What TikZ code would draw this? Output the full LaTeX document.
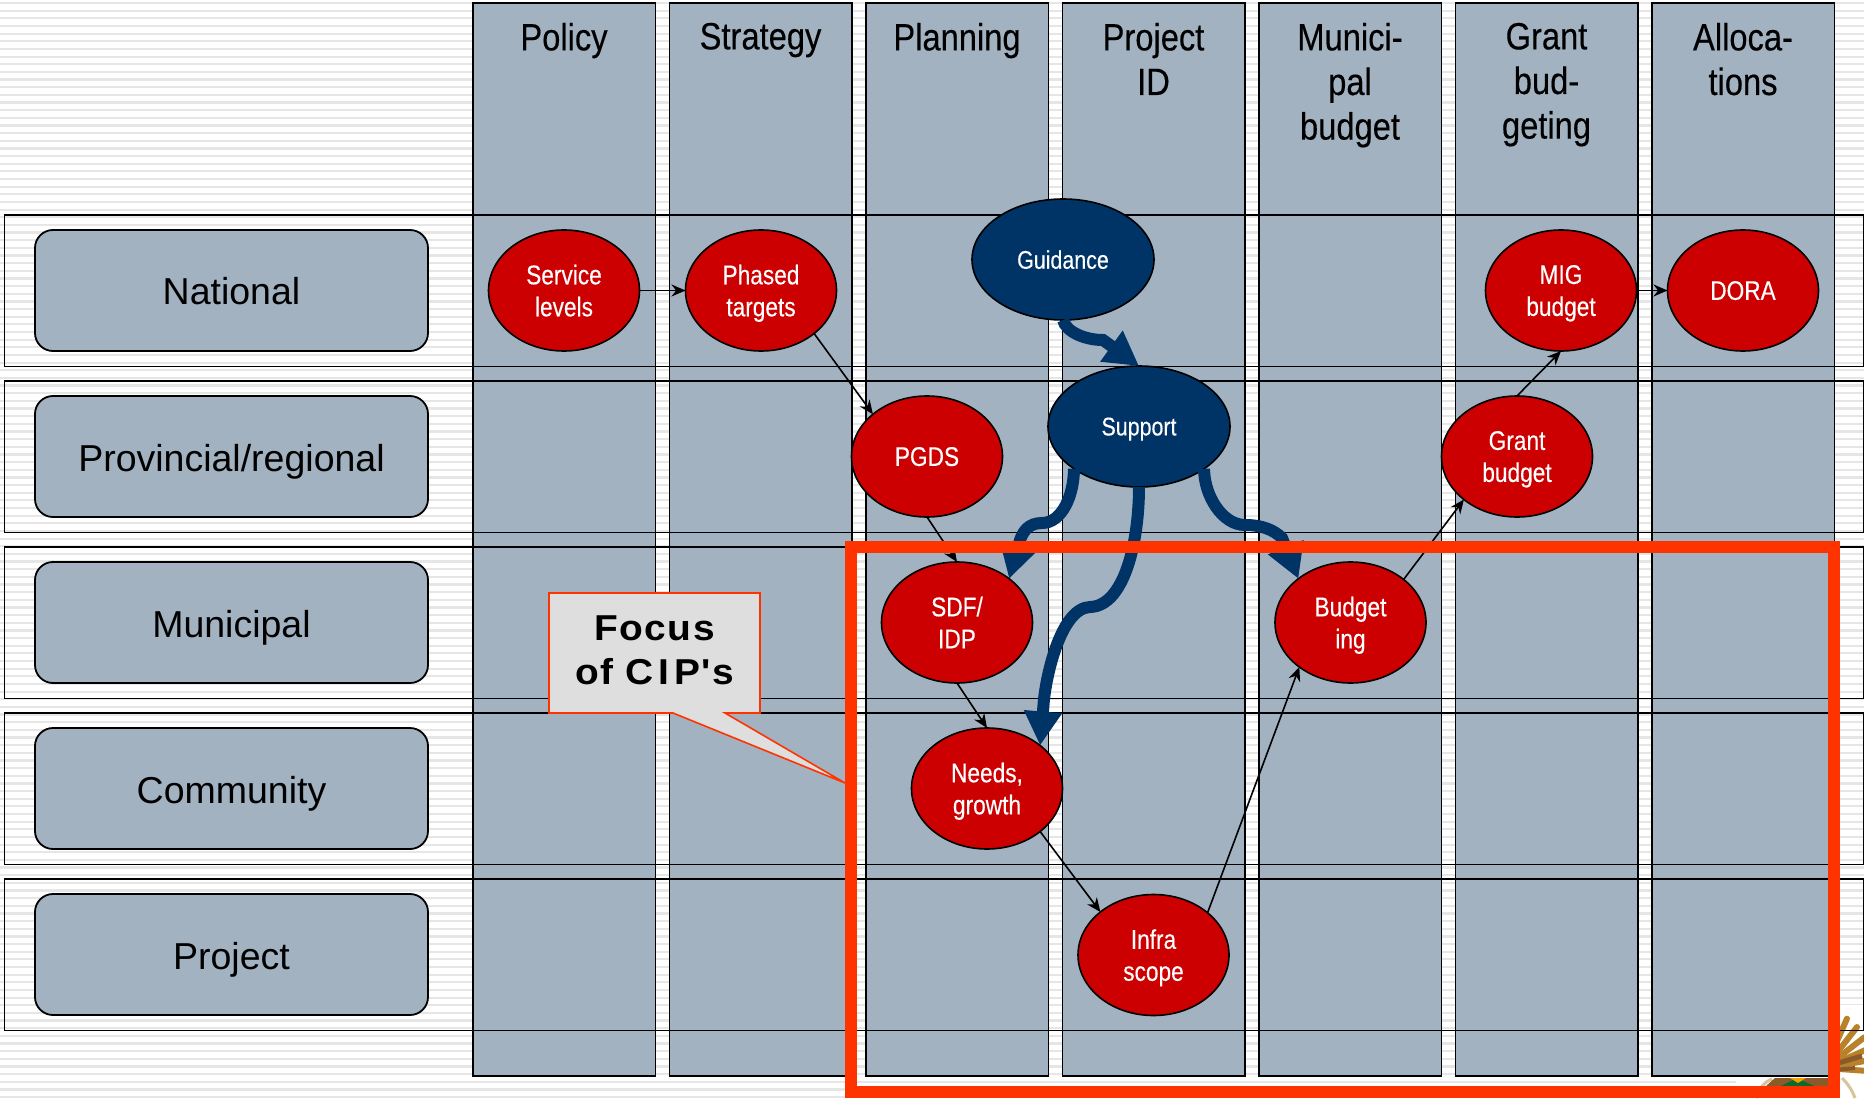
\documentclass[tikz,border=0pt]{standalone}
\usepackage{fontspec}
\usetikzlibrary{arrows.meta,shapes.geometric}
\setmainfont{Liberation Sans}
\newfontfamily\narrowf[FakeStretch=0.86,FakeBold=0.3]{Liberation Sans}
\newfontfamily\whitef[FakeStretch=0.84,FakeBold=0.25]{Liberation Sans}
\newfontfamily\wideb[FakeStretch=1.08,LetterSpace=4,BoldFont={Liberation Sans Bold}]{Liberation Sans}
\definecolor{colblue}{HTML}{A2B2C1}
\definecolor{ovred}{HTML}{CC0000}
\definecolor{ovnavy}{HTML}{003366}
\definecolor{focus}{HTML}{FF3300}
\definecolor{stripe}{HTML}{E6E6E6}
\definecolor{gold}{HTML}{B8812A}
\definecolor{darkgold}{HTML}{8B5A2B}
\definecolor{beige}{HTML}{D8C49A}
\definecolor{kgreen}{HTML}{0A6B2A}
\definecolor{korange}{HTML}{F5A000}
\tikzset{
  x=1pt,y=-1pt,
  every node/.style={outer sep=0pt},
  colbox/.style={draw=black,line width=1.8pt,fill=colblue,minimum width=182.5pt,minimum height=1073pt,inner sep=0pt,anchor=north west},
  rowbox/.style={draw=black,line width=1.8pt,minimum width=1859pt,minimum height=151.5pt,inner sep=0pt,anchor=north west},
  rowlabel/.style={draw=black,line width=1.8pt,fill=colblue,rounded corners=18pt,minimum width=393pt,minimum height=121pt,inner sep=0pt,text height=29pt,text depth=0pt,font=\fontsize{37.5}{42}\selectfont},
  headtext/.style={anchor=north,align=center,font=\narrowf\fontsize{38}{44.6}\selectfont},
  redov/.style={ellipse,draw=black,line width=1.6pt,fill=ovred,text=white,minimum width=151pt,minimum height=121pt,inner sep=0pt,align=center,text depth=0pt,font=\whitef\fontsize{27}{32}\selectfont},
  navyov/.style={ellipse,draw=black,line width=1.6pt,fill=ovnavy,text=white,minimum width=182pt,minimum height=121pt,inner sep=0pt,text depth=0pt,font=\whitef\fontsize{25.5}{30}\selectfont},
  thinarrow/.style={draw=black,line width=1.6pt,-{Stealth[length=14pt,width=12pt]}},
  thickarrow/.style={draw=ovnavy,line width=12pt,-{Triangle[length=34pt,width=36pt]}},
  feather/.style={draw=gold,line width=6pt,line cap=round},
}
\begin{document}
\begin{tikzpicture}
\useasboundingbox (0,0) rectangle (1864,1099);
% striped background
\foreach \i in {0,...,143}{
  \fill[stripe] (0,{2+7.65*\i}) rectangle (1864,{4.2+7.65*\i});
}
% emblem
\fill[white] (1736,1005) rectangle (1864,1099);
\foreach \a/\r in {-80/56,-66/54,-52/52,-38/50,-24/48,-10/46,4/44}{
  \draw[feather] (1825,1068) -- ++(\a:\r);
}
\draw[draw=darkgold,line width=5pt] (1835,1064) -- (1862,1056);
\draw[draw=darkgold,line width=4pt] (1835,1070) -- (1855,1068);
\draw[draw=beige,line width=3pt] (1842,1078) .. controls (1848,1084) and (1852,1090) .. (1855,1098);
\draw[draw=beige,line width=3pt] (1756,1098) .. controls (1760,1088) and (1764,1082) .. (1772,1079);
\fill[darkgold] (1766,1086) -- (1775,1078) -- (1830,1078) -- (1830,1086) -- cycle;
\fill[kgreen] (1781,1086) -- (1797,1078) -- (1814,1086) -- cycle;
\fill[korange] (1790,1078) -- (1798,1083) -- (1806,1078) -- cycle;
% columns
\node[colbox] (c1) at (473,3) {};
\node[colbox] (c2) at (669.5,3) {};
\node[colbox] (c3) at (866,3) {};
\node[colbox] (c4) at (1062.5,3) {};
\node[colbox] (c5) at (1259,3) {};
\node[colbox] (c6) at (1455.5,3) {};
\node[colbox] (c7) at (1652,3) {};
\node[headtext] (h1) at (564,19.5) {Policy};
\node[headtext] (h2) at (760.5,19.5) {Strategy};
\node[headtext] (h3) at (957,19.5) {Planning};
\node[headtext] (h4) at (1153.5,19.5) {Project\\ID};
\node[headtext] (h5) at (1350,19.5) {Munici-\\pal\\budget};
\node[headtext] (h6) at (1546.5,19.5) {Grant\\bud-\\geting};
\node[headtext] (h7) at (1743,19.5) {Alloca-\\tions};
% rows
\node[rowbox] (r1) at (4.5,215) {};
\node[rowbox] (r2) at (4.5,381) {};
\node[rowbox] (r3) at (4.5,547) {};
\node[rowbox] (r4) at (4.5,713) {};
\node[rowbox] (r5) at (4.5,879) {};
\node[rowlabel] (l1) at (231.5,290.5) {National};
\node[rowlabel] (l2) at (231.5,456.5) {Provincial/regional};
\node[rowlabel] (l3) at (231.5,622.5) {Municipal};
\node[rowlabel] (l4) at (231.5,788.5) {Community};
\node[rowlabel] (l5) at (231.5,954.5) {Project};
% ovals
\node[redov] (service) at (564,290.5) {Service\\levels};
\node[redov] (phased) at (761,290.5) {Phased\\targets};
\node[redov] (pgds) at (927,456.5) {PGDS};
\node[redov] (sdf) at (957,622.5) {SDF/\\IDP};
\node[redov] (needs) at (987,788.5) {Needs,\\growth};
\node[redov] (infra) at (1153.5,955) {Infra\\scope};
\node[redov] (budget) at (1350.5,622.5) {Budget\\ing};
\node[redov] (grant) at (1517,456.5) {Grant\\budget};
\node[redov] (mig) at (1561,290.5) {MIG\\budget};
\node[redov] (dora) at (1743,290.5) {DORA};
\node[navyov] (guidance) at (1063,259.5) {Guidance};
\node[navyov] (support) at (1139,426.5) {Support};
% thin connectors
\draw[thinarrow] (service.east) -- (phased.west);
\draw[thinarrow] (phased.-39) -- (pgds.142);
\draw[thinarrow] (pgds.south) -- (sdf.north);
\draw[thinarrow] (sdf.south) -- (needs.north);
\draw[thinarrow] (needs.-39) -- (infra.141);
\draw[thinarrow] (infra.38) -- (budget.221);
\draw[thinarrow] (budget.39) -- (grant.219);
\draw[thinarrow] (grant.north) -- (mig.south);
\draw[thinarrow] (mig.east) -- (dora.west);
% thick connectors
\draw[thickarrow] (guidance.south) .. controls (1066,332) and (1085,340) .. (1103,340) -- (support.north);
\draw[thickarrow] (support.-147) .. controls (1074,495) and (1062,523) .. (1042,523) .. controls (1028,523) and (1023,532) .. (1020,540) -- (sdf.40);
\draw[thickarrow] (support.south) .. controls (1139,540) and (1125,606) .. (1090,607) .. controls (1060,608) and (1045,680) .. (1043.5,705) -- (needs.39);
\draw[thickarrow] (support.-33) .. controls (1204,495) and (1222,525) .. (1245,525) .. controls (1262,525) and (1274,530) .. (1282,538) -- (budget.140);
% focus frame
\node[draw=focus,line width=12pt,minimum width=983pt,minimum height=545pt,inner sep=0pt,anchor=north west] (frame) at (851,547) {};
% callout
\draw[draw=focus,line width=1.6pt,fill=black!13] (549,593) -- (760,593) -- (760,713) -- (725,713) -- (845,783) -- (673,713) -- (549,713) -- cycle;
\node[align=center,font=\wideb\bfseries\fontsize{36}{44}\selectfont] (calltext) at (654.5,650) {Focus\\of C\kern5pt I\kern5pt P's};
\end{tikzpicture}
\end{document}
